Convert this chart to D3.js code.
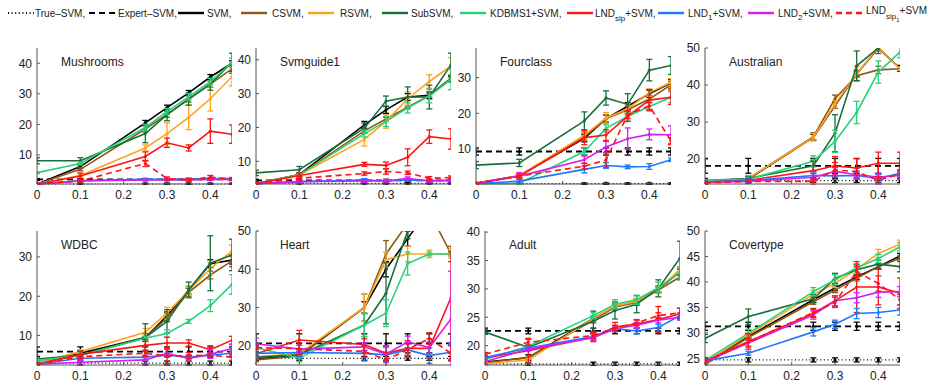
<!DOCTYPE html>
<html><head><meta charset="utf-8">
<script src="https://cdn.jsdelivr.net/npm/d3@7"></script>
<style>
html,body{margin:0;padding:0;background:#fff;}
text{font-family:"Liberation Sans",Arial,Helvetica,sans-serif;}
</style></head>
<body><svg id="chart" width="928" height="389"></svg>
<script>
// ---------------- DATA ----------------
const xValues = [0, 0.1, 0.25, 0.3, 0.35, 0.4, 0.45];
const xTicks = [0, 0.1, 0.2, 0.3, 0.4];
const datasetNames = ["Mushrooms", "Svmguide1", "Fourclass", "Australian", "WDBC", "Heart", "Adult", "Covertype"];
const seriesNames = ["True–SVM", "Expert–SVM", "SVM", "CSVM", "RSVM", "SubSVM", "KDBMS1+SVM", "LNDslp+SVM", "LND1+SVM", "LND2+SVM", "LNDslp1+SVM"];
const yDomains = [[0.5, 45], [3.3, 43.5], [0.2, 38.3], [13.3, 50], [2.5, 36.6], [14.95, 50], [16.6, 40.2], [23.7, 50]];
const yTicks = [[10, 20, 30, 40], [10, 20, 30, 40], [10, 20, 30], [20, 30, 40, 50], [10, 20, 30], [20, 30, 40, 50], [20, 25, 30, 35, 40], [25, 30, 35, 40, 45, 50]];

// series order: True, Expert, SVM, CSVM, RSVM, SubSVM, KDBMS1, LNDslp, LND1, LND2, LNDslp1
const mushroomsMean = [
  [0.5,0.5,0.5,0.5,0.5,0.5,0.5],
  [2,2,2,2,2,2,2],
  [0.5,6.2,20.5,25.5,30.3,35.5,40],
  [0.5,5.3,18.5,23.3,28.3,33.2,38.2],
  [0.5,3.3,12.3,17,22.3,28.4,35.6],
  [8.1,8.1,17,23.2,28.3,33.2,40.3],
  [4.2,7.2,19,24.2,29,34,40.2],
  [0.5,3.1,9.5,14,12.3,17.8,16.8],
  [0.5,1.6,2,2,2.1,2.3,2.3],
  [0.5,1.5,1.8,1.8,1.8,2,2],
  [0.5,1.5,7.2,2.3,1.8,2.8,2.1]];
const mushroomsErr = [
  [0.3,0.3,0.3,0.3,0.3,0.3,0.3],
  [0.3,0.3,0.3,0.3,0.3,0.3,0.3],
  [0.3,0.5,0.8,0.8,0.8,0.8,0.8],
  [0.3,0.5,1,1,1,1,1.5],
  [0.3,0.5,1,3.5,4,4,3],
  [1,1,3,2,2,2,3],
  [0.3,0.5,1,1,1,1,1.5],
  [0.3,1,1.5,1.5,1,4,3],
  [0.3,0.3,0.3,0.3,0.3,0.3,0.3],
  [0.3,0.3,0.3,0.3,0.3,0.3,0.3],
  [0.3,0.5,1,0.5,0.5,0.5,0.5]];

const svmguide1Mean = [
  [3.5,3.5,3.5,3.5,3.5,3.5,3.5],
  [4.4,4.4,4.4,4.4,4.4,4.4,4.4],
  [3.4,6.1,20.8,25.2,29,29.5,34.5],
  [3.4,6,19,22.5,26,29.5,34.5],
  [3.4,6,16.5,21.8,28.5,33.6,38.2],
  [6.6,7.5,19.8,27.8,29,29,38.5],
  [3.4,6,18.2,21.8,25.8,29.3,34.2],
  [3.4,5.8,9.1,8.8,11.2,17.3,16.6],
  [3.4,4,4.5,4.2,4.5,4.3,4.3],
  [3.4,4,4.2,4.2,5,4.2,4.4],
  [3.4,5,6.4,7,6.6,5,5.2]];
const svmguide1Err = [
  [0.2,0.2,0.2,0.2,0.2,0.2,0.2],
  [0.3,0.3,0.3,0.3,0.3,0.3,0.3],
  [0.2,0.5,1,1,1,1,1],
  [0.2,0.5,0.5,0.5,0.5,0.5,0.5],
  [0.2,0.5,2,2,2,2,2.5],
  [0.8,1,1.5,1.5,3,3.5,3.5],
  [0.2,0.5,1,1.5,1.5,2,3],
  [0.3,0.8,0.6,1,2.5,2,3],
  [0.4,0.4,0.4,0.4,0.4,0.4,0.4],
  [0.4,0.4,0.4,0.4,0.4,0.4,0.4],
  [0.3,0.5,0.5,0.8,0.5,0.5,0.5]];

const fourclassMean = [
  [0.3,0.3,0.3,0.3,0.3,0.3,0.3],
  [9.3,9.3,9.3,9.3,9.3,9.3,9.3],
  [0.4,2.5,13,18.5,22,25.5,28.5],
  [0.4,2.5,13.5,18.5,21,24,28],
  [0.4,2.5,13.8,18.7,21.3,25.8,28.7],
  [5.5,6.1,17.9,24.3,22.5,32.1,33.4],
  [0.3,0.4,9.3,15.8,19.1,21.9,24.5],
  [0.4,2.4,13.2,13.9,19.2,23.7,24.5],
  [0.3,1,4.3,5.4,5,5.1,7],
  [0.4,2.4,7,10.6,12.9,14.1,14],
  [0.4,2.4,5.2,6.9,19.6,22.1,12.2]];
const fourclassErr = [
  [0.2,0.2,0.2,0.2,0.2,0.2,0.2],
  [1,1,1,1,1,1,1],
  [0.2,0.5,1,1,1,1,1],
  [0.2,0.5,1,1,1,1,1],
  [0.2,0.5,1,1.5,1,1,1],
  [1,1,2.5,2,3,3,2.5],
  [0.2,0.3,1,1,1,1,1.5],
  [0.2,0.5,2,1.5,1.5,3,2],
  [0.2,0.5,1,0.8,0.5,0.8,0.5],
  [0.2,1,1,1.5,3,1.5,2.5],
  [0.2,0.5,0.8,2,1,1,1]];

const australianMean = [
  [14.2,14.2,14.2,14.2,14.2,14.2,14.2],
  [18.2,18.2,18.2,18.2,18.2,18.2,18.2],
  [14,14.6,25.9,34.5,43,50,44.5],
  [14,14.8,26.1,36.3,42.5,44.1,44.4],
  [14,14.8,25.9,34.8,43,50.2,44.4],
  [14.2,14.8,18.2,27,45.2,50,55],
  [14.2,14.6,19.4,24.8,32.6,43.5,48.9],
  [13.8,14.3,16.9,18.2,17.6,18.9,18.9],
  [13.8,14.2,15.6,15.5,15.6,14.8,16.2],
  [13.8,14,15.1,16.7,15.8,15.2,15.6],
  [13.6,14,14,17.1,16.6,14.3,16]];
const australianErr = [
  [0.5,0.5,0.5,0.5,0.5,0.5,0.5],
  [2,2,2,2,2,2,2],
  [0.8,0.8,0.8,0.8,0.8,0.8,0.8],
  [0.3,0.5,1,1,1.5,1,0.5],
  [0.3,0.5,1,1,2,1,0.5],
  [0.3,0.5,1.5,5,4,1.5,1],
  [0.3,1,1.5,3,3,3,1.5],
  [0.5,0.5,2.5,2.5,2.5,3,3],
  [0.3,0.5,1,1,1,1,1],
  [0.3,0.5,1,1,1,1,1],
  [0.3,0.5,1,2,1,1,1]];

const wdbcMean = [
  [3,3,3,3,3,3,3],
  [5.9,5.9,5.9,5.9,5.9,5.9,5.9],
  [3,5.5,9.5,15,21.5,28.3,29.2],
  [3,5,9.5,14.5,21,25.4,29],
  [3,5.9,10.8,15.7,21.4,27.1,31.5],
  [4,5,9.5,13.6,21.6,28.4,30.5],
  [3.6,5,9.3,10.5,13.6,17.6,23],
  [2.7,5.2,7.5,8.1,8.1,6.4,8.8],
  [2.7,4.2,4.5,5,4.5,5,5.5],
  [2.7,3.2,3.8,5.5,4.2,5.2,6.7],
  [2.7,4.6,5.5,4.8,4.9,5,4.5]];
const wdbcErr = [
  [0.5,0.5,0.5,0.5,0.5,0.5,0.5],
  [1.2,1.2,1.2,1.2,1.2,1.2,1.2],
  [0.3,0.5,1,1,1,1,1],
  [0.3,0.5,1,1,1,1,1.5],
  [0.3,0.5,1,1.5,1,1.5,1.5],
  [0.5,1,3.5,3,2,7,4],
  [0.3,0.5,0.5,1,0.5,1.5,2.5],
  [0.3,0.8,1.5,1.5,0.8,1,1],
  [0.3,0.5,0.5,0.5,0.5,0.5,0.5],
  [0.3,0.5,1,1,0.8,1,1],
  [0.3,0.5,0.8,2,0.8,0.5,0.8]];

const heartMean = [
  [16.7,16.7,16.7,16.7,16.7,16.7,16.7],
  [20.6,20.6,20.6,20.6,20.6,20.6,20.6],
  [16.6,17.4,30,40,48,56,60],
  [16.3,17.3,30,44,52,55,44],
  [17,18,30,42.5,44,44,44],
  [17,17.6,25.4,33.7,50,58,60],
  [19.5,16.8,25.4,28.5,41.5,44,44],
  [17.9,21.5,20.3,18,19.3,19.3,32.6],
  [18,18.2,18,17.6,18.9,17.4,18.3],
  [20.5,19.1,19.7,17.8,21,19.5,27],
  [19.5,19.2,18.5,16.3,19,21.9,18]];
const heartErr = [
  [0.5,0.5,0.5,0.5,0.5,0.5,0.5],
  [2.5,2.5,2.5,2.5,2.5,2.5,2.5],
  [0.5,0.5,1.5,2,2,2,2],
  [0.5,0.5,3.5,3.5,2,2,2],
  [0.5,0.5,3.5,2,2,1,1],
  [0.5,1,3,8,2,2,2],
  [0.5,1,3,3.5,3,0.5,0.5],
  [2,2.5,1.5,2,2,2.5,12],
  [1,1,2,2,2,2,2],
  [1.5,1,1,2,1.5,1.5,12.5],
  [1,1.5,1.5,2,1.5,1.5,2]];

const adultMean = [
  [16.8,16.8,16.8,16.8,16.8,16.8,16.8],
  [22.6,22.6,22.6,22.6,22.6,22.6,22.6],
  [17.1,17.9,24.8,26.9,27.8,30,33],
  [17,17.9,24.5,26.8,27.6,29.8,32.1],
  [16.8,17.5,24.8,27,27.8,30,33.4],
  [22.4,19.7,24.3,26.2,27.3,30.1,35.4],
  [17.6,19.9,25.3,27.3,28.1,30.2,32.9],
  [17.9,19.1,21.5,23.3,23.8,24.6,25.6],
  [17.9,19.6,21.6,23,22.6,23.2,25.3],
  [17.2,19.4,21.4,23,23.6,24.5,25],
  [18.5,20.6,21.8,23.1,24,25.3,25.8]];
const adultErr = [
  [0.3,0.3,0.3,0.3,0.3,0.3,0.3],
  [0.5,0.5,0.5,0.5,0.5,0.5,0.5],
  [0.5,0.5,0.5,0.5,0.5,0.5,0.5],
  [0.3,0.3,0.5,0.5,0.5,0.5,0.5],
  [0.3,0.3,0.5,0.5,0.5,0.5,0.5],
  [0.4,0.5,1.8,1.5,1.5,1.5,3],
  [0.3,0.3,0.5,0.8,0.8,1,1],
  [0.3,2.2,0.8,0.8,0.8,2.3,1],
  [0.3,0.3,0.5,0.5,0.5,0.6,0.5],
  [0.3,0.3,0.5,0.5,0.5,0.5,0.5],
  [0.3,0.5,0.5,0.5,0.5,0.5,0.8]];

const covertypeMean = [
  [24.7,24.7,24.7,24.7,24.7,24.7,24.7],
  [31.3,31.3,31.3,31.3,31.3,31.3,31.3],
  [24.2,29.3,36.5,38.8,41,43,45.1],
  [23.8,29.1,36.1,38.4,40.7,43,44.6],
  [24.2,29.6,37.6,39.7,42.5,45.6,47.4],
  [28.9,33.2,36.7,40.7,42.4,43.5,43],
  [24.6,29.9,38.1,40.4,42.8,44.6,46.9],
  [24.4,28.3,33.8,36.3,39,39,37.8],
  [24.5,26,30.2,31.7,33.8,34,34.5],
  [24.3,28,33.5,36.3,36.9,38,38.1],
  [24.4,28.2,34,36,42,39.7,36.5]];
const covertypeErr = [
  [0.4,0.4,0.4,0.4,0.4,0.4,0.4],
  [0.8,0.8,0.8,0.8,0.8,0.8,0.8],
  [0.3,0.5,0.5,0.5,0.5,0.5,0.5],
  [0.3,0.5,0.5,0.5,0.5,0.5,0.5],
  [0.3,0.5,0.8,0.8,0.8,0.8,0.8],
  [0.8,1.5,0.8,1,1,0.8,1],
  [0.3,0.8,0.8,1,0.8,0.8,0.8],
  [0.3,1.5,0.8,1,5,3.5,3],
  [0.4,0.4,0.8,0.8,1,1,1],
  [0.3,0.8,0.8,1,1,1,1],
  [0.3,0.8,0.8,1,1,1.5,1]];

const allMeans = [mushroomsMean, svmguide1Mean, fourclassMean, australianMean, wdbcMean, heartMean, adultMean, covertypeMean];
const allErrs = [mushroomsErr, svmguide1Err, fourclassErr, australianErr, wdbcErr, heartErr, adultErr, covertypeErr];

// ---------------- STYLE / LAYOUT ----------------
const colors = ["#000000","#000000","#000000","#8c5a16","#ffa21c","#17703b","#27d27a","#ff1414","#1c78ff","#d41ef2","#ff1414"];
const dashes = ["1,2.6","6,4",null,null,null,null,null,null,null,null,"6,4"];
const widths = [1.2,1.8,1.6,1.6,1.6,1.6,1.6,1.6,1.6,1.6,1.6];
const lefts = [37,256,476,705,37,256,485,705];
const plotW = 195;
const rowTop = [48, 231], rowBottom = [184, 365];

const svg = d3.select("#chart");

datasetNames.forEach((name, p) => {
  const row = p < 4 ? 0 : 1;
  const x0 = lefts[p], top = rowTop[row], bottom = rowBottom[row];
  const x = d3.scaleLinear().domain([0, 0.45]).range([x0, x0 + plotW]);
  const y = d3.scaleLinear().domain(yDomains[p]).range([bottom, top]);
  const g = svg.append("g");
  const clipId = "clip" + p;
  svg.append("clipPath").attr("id", clipId).append("rect")
    .attr("x", x0).attr("y", top).attr("width", plotW).attr("height", bottom - top + 1);

  const plot = g.append("g").attr("clip-path", `url(#${clipId})`);
  const means = allMeans[p], errs = allErrs[p];
  means.forEach((vals, s) => {
    const pts = vals.map((v, i) => ({x: xValues[i], v, e: errs[s][i]}));
    const sg = plot.append("g").attr("stroke", colors[s]).attr("fill", colors[s]);
    const line = d3.line().x(d => x(d.x)).y(d => y(d.v));
    sg.append("path").datum(pts).attr("d", line).attr("fill", "none")
      .attr("stroke-width", widths[s]).attr("stroke-dasharray", dashes[s]);
    pts.forEach(d => {
      const cx = x(d.x);
      sg.append("line").attr("x1", cx).attr("x2", cx).attr("y1", y(d.v - d.e)).attr("y2", y(d.v + d.e)).attr("stroke-width", 1.3);
      [d.v - d.e, d.v + d.e].forEach(c => {
        sg.append("line").attr("x1", cx - 3).attr("x2", cx + 3).attr("y1", y(c)).attr("y2", y(c)).attr("stroke-width", 1.3);
      });
      sg.append("circle").attr("cx", cx).attr("cy", y(d.v)).attr("r", 1.6).attr("stroke", "none");
    });
  });

  const ax = g.append("g");
  ax.append("line").attr("x1", x0).attr("x2", x0).attr("y1", top).attr("y2", bottom).attr("stroke", "#555").attr("stroke-width", 1);
  ax.append("line").attr("x1", x0).attr("x2", x0 + plotW).attr("y1", bottom).attr("y2", bottom).attr("stroke", "#555").attr("stroke-width", 1);
  xTicks.forEach(t => {
    ax.append("line").attr("x1", x(t)).attr("x2", x(t)).attr("y1", bottom).attr("y2", bottom - 3).attr("stroke", "#555");
    ax.append("text").attr("x", x(t)).attr("y", bottom + 15).attr("text-anchor", "middle")
      .attr("font-size", 12).attr("fill", "#222").text(t === 0 ? "0" : String(t));
  });
  yTicks[p].forEach(t => {
    ax.append("line").attr("x1", x0).attr("x2", x0 + 3).attr("y1", y(t)).attr("y2", y(t)).attr("stroke", "#555");
    ax.append("text").attr("x", x0 - 5).attr("y", y(t)).attr("dy", "0.36em").attr("text-anchor", "end")
      .attr("font-size", 12).attr("fill", "#222").text(t);
  });
  g.append("text").attr("x", x0 + 24).attr("y", top + 18).attr("font-size", 12).attr("fill", "#222").text(name);
});

// ---------------- LEGEND ----------------
const legendLineX = [8, 89, 178, 241, 308, 382, 460, 567, 658, 748, 836];
const legendTextX = [35, 118, 207, 272, 340, 411, 490, 595, 688, 778, 866];
const leg = svg.append("g");
const ly = 13;
seriesNames.forEach((n, s) => {
  leg.append("line").attr("x1", legendLineX[s]).attr("x2", legendLineX[s] + 26).attr("y1", ly).attr("y2", ly)
    .attr("stroke", colors[s]).attr("stroke-width", s < 2 ? 1.8 : 2.4).attr("stroke-dasharray", dashes[s]);
  const t = leg.append("text").attr("x", legendTextX[s]).attr("y", ly + 4).attr("font-size", 10).attr("fill", "#222");
  if (s === 7) {
    t.append("tspan").text("LND");
    t.append("tspan").attr("dy", 4).attr("font-size", 8).text("slp");
    t.append("tspan").attr("dy", -4).text("+SVM,");
  } else if (s === 8 || s === 9) {
    t.append("tspan").text("LND");
    t.append("tspan").attr("dy", 3).attr("font-size", 8).text(s === 8 ? "1" : "2");
    t.append("tspan").attr("dy", -3).text("+SVM,");
  } else if (s === 10) {
    t.attr("y", ly + 1);
    t.append("tspan").text("LND");
    t.append("tspan").attr("dy", 5).attr("font-size", 8).text("slp");
    t.append("tspan").attr("dy", 3).attr("font-size", 6).text("1");
    t.append("tspan").attr("dy", -8).text("+SVM");
  } else {
    t.text(n + ",");
  }
});
</script>
</body></html>
